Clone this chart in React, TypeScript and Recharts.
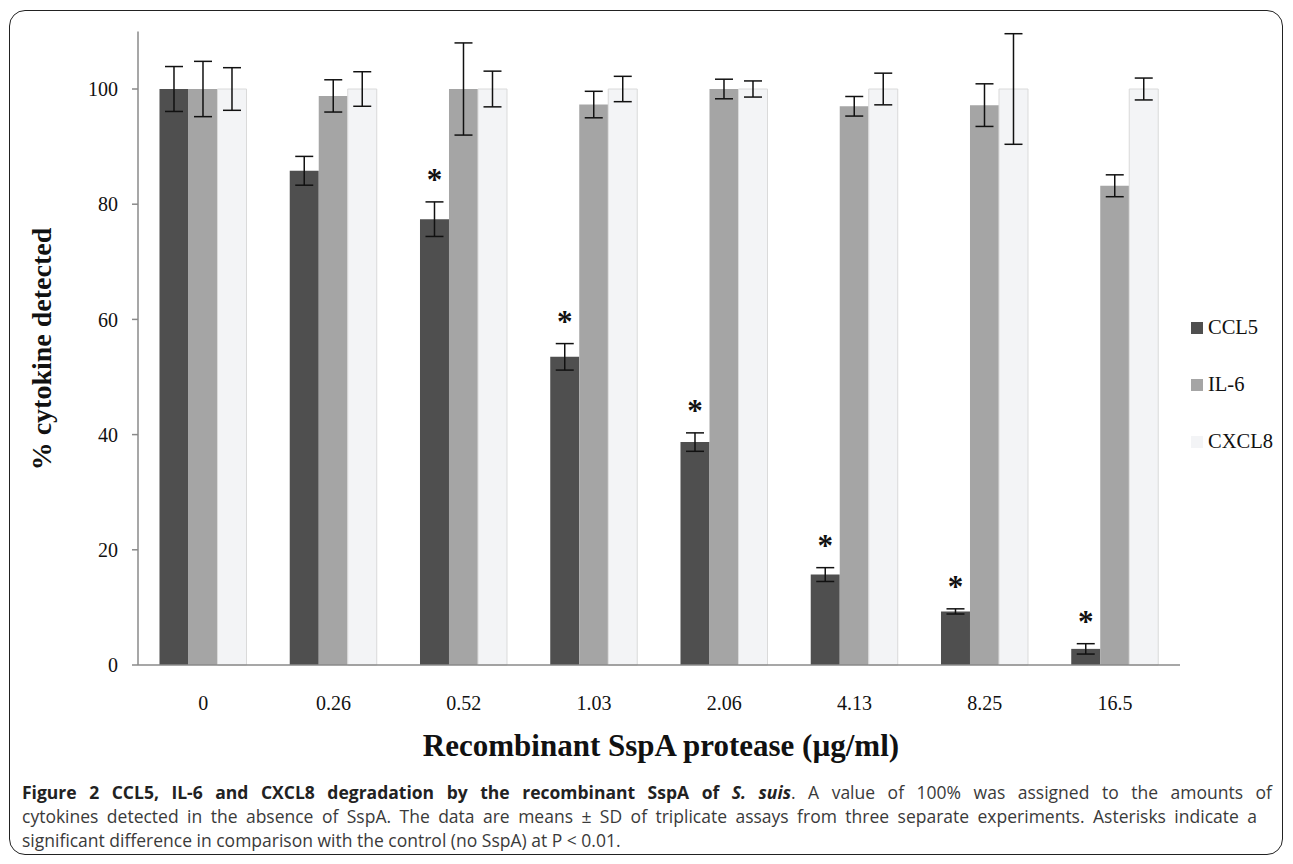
import React from "react";
import { BarChart, Bar, XAxis, YAxis, ErrorBar, LabelList } from "recharts";

const categories = ["0", "0.26", "0.52", "1.03", "2.06", "4.13", "8.25", "16.5"];
const ccl5 = [100, 85.8, 77.4, 53.5, 38.7, 15.7, 9.3, 2.8];
const ccl5Err = [3.9, 2.5, 3.0, 2.3, 1.6, 1.2, 0.45, 0.9];
const il6 = [100, 98.8, 100, 97.3, 100, 97.0, 97.2, 83.2];
const il6Err = [4.8, 2.8, 8.0, 2.3, 1.7, 1.7, 3.7, 1.9];
const cxcl8 = [100, 100, 100, 100, 100, 100, 100, 100];
const cxcl8Err = [3.7, 3.0, 3.1, 2.2, 1.4, 2.75, 9.6, 1.9];
const significant = [false, false, true, true, true, true, true, true];
const yTicks = [0, 20, 40, 60, 80, 100];

const series = [
  { key: "ccl5", name: "CCL5", color: "#4f4f4f" },
  { key: "il6", name: "IL-6", color: "#a5a5a5" },
  { key: "cxcl8", name: "CXCL8", color: "#f3f4f6" },
];

const data = categories.map((c, i) => ({
  dose: c,
  ccl5: ccl5[i],
  ccl5Err: ccl5Err[i],
  il6: il6[i],
  il6Err: il6Err[i],
  cxcl8: cxcl8[i],
  cxcl8Err: cxcl8Err[i],
}));

const serif = '"Liberation Serif", "Times New Roman", serif';

// asterisk above the error bar of significant CCL5 values
function Star(props: any) {
  const { x, y, width, height, value, index } = props;
  if (!significant[index] || !value) return null;
  const pxPerUnit = height / value;
  const top = y - ccl5Err[index] * pxPerUnit;
  return (
    <text
      x={x + width / 2}
      y={top - 12}
      textAnchor="middle"
      fontFamily={serif}
      fontWeight="bold"
      fontSize={31}
      fill="#111"
    >
      *
    </text>
  );
}

export default function App() {
  return (
    <div style={{ position: "absolute", left: 0, top: 0, width: 1293, height: 864, background: "#fff" }}>
      <div
        style={{
          position: "absolute",
          left: 9,
          top: 10,
          width: 1274,
          height: 845,
          border: "1.5px solid #222",
          borderRadius: 16,
          boxSizing: "border-box",
        }}
      />
      <div style={{ position: "absolute", left: 0, top: 0 }}>
        <BarChart
          width={1293}
          height={864}
          data={data}
          margin={{ top: 31.4, right: 113, bottom: 159, left: 78 }}
          barCategoryGap="16.5%"
          barGap={0}
        >
          <XAxis
            dataKey="dose"
            height={40}
            tickLine={false}
            tickMargin={25}
            axisLine={{ stroke: "#8a8a8a", strokeWidth: 1.5 }}
            tick={{ fontFamily: serif, fontSize: 20, fill: "#111" }}
          />
          <YAxis
            width={60}
            domain={[0, 110]}
            ticks={yTicks}
            tickSize={6}
            tickMargin={14}
            axisLine={{ stroke: "#8a8a8a", strokeWidth: 1.5 }}
            tickLine={{ stroke: "#8a8a8a", strokeWidth: 1.5 }}
            tick={{ fontFamily: serif, fontSize: 20, fill: "#111" }}
          />
          {series.map((s) => (
            <Bar
              key={s.key}
              dataKey={s.key}
              fill={s.color}
              stroke={s.key === "cxcl8" ? "#dadada" : "none"}
              strokeWidth={1}
              isAnimationActive={false}
            >
              <ErrorBar
                dataKey={s.key + "Err"}
                width={9}
                stroke="#111"
                strokeWidth={1.5}
                direction="y"
                isAnimationActive={false}
              />
              {s.key === "ccl5" && <LabelList dataKey="ccl5" content={Star} />}
            </Bar>
          ))}
        </BarChart>
      </div>

      {/* legend */}
      {series.map((s, i) => (
        <div
          key={s.key}
          style={{
            position: "absolute",
            left: 1191,
            top: 316 + i * 57,
            display: "flex",
            alignItems: "center",
            fontFamily: serif,
            fontSize: 20.5,
            color: "#111",
          }}
        >
          <span style={{ width: 12, height: 12, background: s.color, marginRight: 5, display: "inline-block" }} />
          {s.name}
        </div>
      ))}

      {/* axis titles */}
      <div
        style={{
          position: "absolute",
          left: 0,
          width: 1322,
          top: 728,
          textAlign: "center",
          fontFamily: serif,
          fontWeight: "bold",
          fontSize: 31,
          color: "#111",
        }}
      >
        Recombinant SspA protease (µg/ml)
      </div>
      <div
        style={{
          position: "absolute",
          left: 42,
          top: 349,
          transform: "translate(-50%, -50%) rotate(-90deg)",
          whiteSpace: "nowrap",
          fontFamily: serif,
          fontWeight: "bold",
          fontSize: 28,
          color: "#111",
        }}
      >
        % cytokine detected
      </div>

      {/* caption */}
      <div
        style={{
          position: "absolute",
          left: 22,
          top: 780,
          width: 1250,
          fontFamily: '"Open Sans", sans-serif',
          fontSize: "17.5px",
          lineHeight: "24px",
          color: "#3a3a3a",
        }}
      >
        <div style={{ textAlign: "justify", textAlignLast: "justify", whiteSpace: "nowrap" }}>
          <b style={{ color: "#222" }}>
            Figure 2 CCL5, IL-6 and CXCL8 degradation by the recombinant SspA of <i>S. suis</i>
          </b>
          . A value of 100% was assigned to the amounts of
        </div>
        <div style={{ textAlign: "justify", textAlignLast: "justify", whiteSpace: "nowrap", width: 1235 }}>
          cytokines detected in the absence of SspA. The data are means ± SD of triplicate assays from three separate experiments. Asterisks indicate a
        </div>
        <div>significant difference in comparison with the control (no SspA) at P &lt; 0.01.</div>
      </div>
    </div>
  );
}
